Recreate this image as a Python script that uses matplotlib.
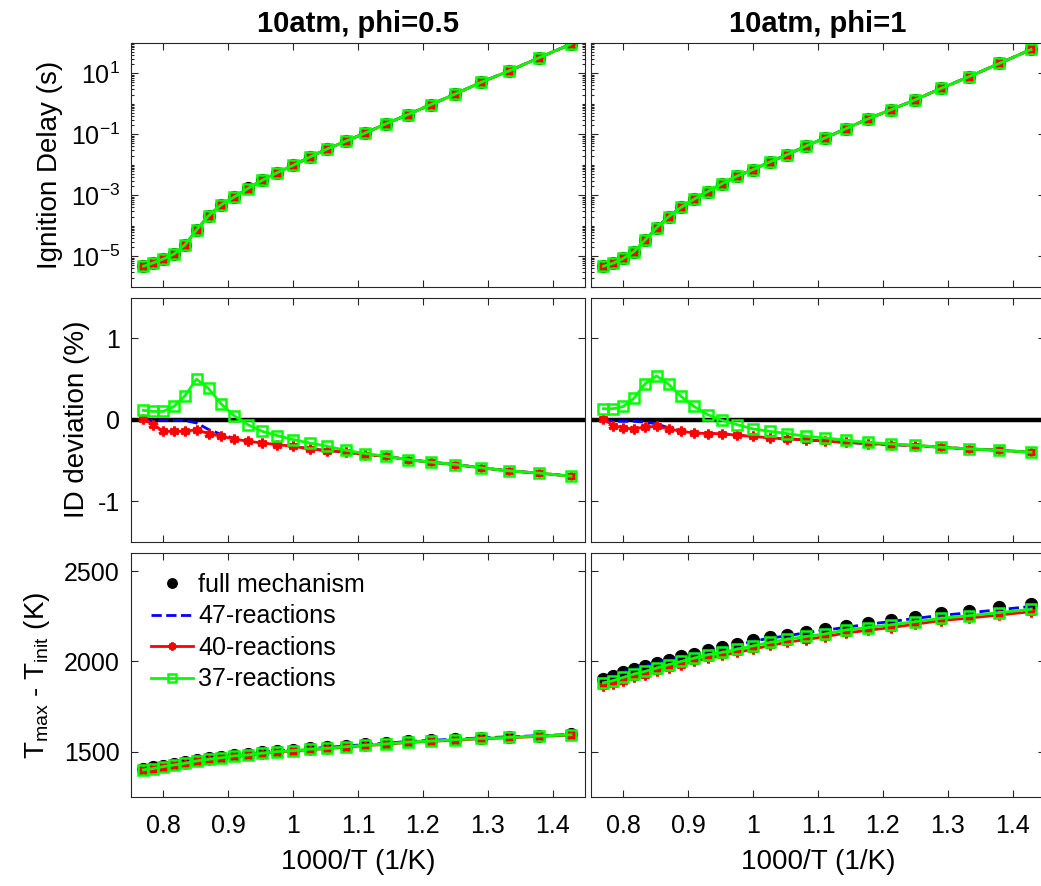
import numpy as np
import matplotlib
matplotlib.use("Agg")
import matplotlib.pyplot as plt
from matplotlib.ticker import LogLocator, NullFormatter

plt.rcParams['font.family'] = ['Liberation Sans', 'DejaVu Sans']
plt.rcParams['mathtext.fontset'] = 'custom'
plt.rcParams['mathtext.rm'] = 'Liberation Sans'
plt.rcParams['mathtext.it'] = 'Liberation Sans'
plt.rcParams['mathtext.bf'] = 'Liberation Sans:bold'
plt.rcParams['axes.unicode_minus'] = False

# initial temperatures (K)
T_init = [1300, 1275, 1250, 1225, 1200, 1175, 1150, 1125, 1100, 1075, 1050, 1025,
          1000, 975, 950, 925, 900, 875, 850, 825, 800, 775, 750, 725, 700]

titles = ["10atm, phi=0.5", "10atm, phi=1"]

# log10 of ignition delay (s), full mechanism
log_idt_phi05 = [-5.33, -5.22, -5.09, -4.93, -4.63, -4.14, -3.68, -3.32, -3.06, -2.78,
                 -2.51, -2.26, -2.02, -1.75, -1.48, -1.23, -0.96, -0.66, -0.36, -0.03,
                 0.32, 0.71, 1.08, 1.51, 1.96]
log_idt_phi1 = [-5.33, -5.23, -5.07, -4.85, -4.47, -4.07, -3.71, -3.40, -3.13, -2.88,
                -2.62, -2.37, -2.16, -1.91, -1.67, -1.39, -1.12, -0.82, -0.50, -0.20,
                0.13, 0.51, 0.89, 1.32, 1.78]

# ID deviation (%) of the reduced mechanisms
dev47_phi05 = [0.0, -0.01, -0.01, -0.01, -0.01, -0.04, -0.12, -0.18, -0.23, -0.265,
               -0.286, -0.306, -0.327, -0.359, -0.380, -0.396, -0.429, -0.449, -0.490,
               -0.522, -0.551, -0.592, -0.629, -0.657, -0.694]
dev40_phi05 = [0.008, -0.061, -0.143, -0.143, -0.143, -0.122, -0.171, -0.204, -0.237,
               -0.265, -0.286, -0.306, -0.327, -0.359, -0.380, -0.396, -0.429, -0.449,
               -0.490, -0.522, -0.551, -0.592, -0.629, -0.657, -0.694]
dev37_phi05 = [0.114, 0.102, 0.102, 0.163, 0.294, 0.498, 0.384, 0.196, 0.049, -0.061,
               -0.143, -0.196, -0.245, -0.286, -0.327, -0.376, -0.416, -0.449, -0.490,
               -0.522, -0.551, -0.592, -0.629, -0.657, -0.694]

dev47_phi1 = [0.0, -0.02, -0.02, -0.02, -0.03, -0.05, -0.10, -0.14, -0.163, -0.171,
              -0.171, -0.192, -0.204, -0.224, -0.237, -0.245, -0.265, -0.278, -0.294,
              -0.306, -0.318, -0.339, -0.359, -0.376, -0.400]
dev40_phi1 = [0.008, -0.073, -0.102, -0.114, -0.090, -0.082, -0.114, -0.143, -0.163,
              -0.171, -0.171, -0.192, -0.204, -0.224, -0.237, -0.245, -0.265, -0.278,
              -0.294, -0.306, -0.318, -0.339, -0.359, -0.376, -0.400]
dev37_phi1 = [0.135, 0.135, 0.163, 0.265, 0.441, 0.539, 0.437, 0.286, 0.163, 0.061,
              -0.008, -0.061, -0.114, -0.143, -0.171, -0.204, -0.224, -0.253, -0.278,
              -0.298, -0.314, -0.339, -0.359, -0.376, -0.400]

# temperature rise T_max - T_init (K)
dT_full_phi05 = [1406, 1413, 1424, 1433, 1442, 1455, 1464, 1472, 1482, 1488, 1497, 1506,
                 1512, 1519, 1525, 1533, 1541, 1548, 1558, 1564, 1571, 1578, 1584, 1590, 1597]
dT_47_phi05 = [1405, 1412, 1423, 1432, 1441, 1454, 1463, 1471, 1481, 1487, 1496, 1505,
               1511, 1518, 1524, 1532, 1540, 1547, 1557, 1563, 1570, 1577, 1583, 1589, 1596]
dT_40_phi05 = [1398, 1405, 1416, 1425, 1434, 1447, 1456, 1464, 1475, 1480, 1490, 1499,
               1504, 1512, 1517, 1526, 1534, 1541, 1552, 1557, 1565, 1572, 1578, 1585, 1592]
dT_37_phi05 = [1400, 1407, 1418, 1427, 1436, 1449, 1458, 1466, 1477, 1482, 1492, 1501,
               1506, 1514, 1519, 1528, 1536, 1543, 1554, 1559, 1567, 1574, 1580, 1587, 1594]

dT_full_phi1 = [1903, 1921, 1939, 1958, 1972, 1991, 2009, 2028, 2042, 2061, 2079, 2095,
                2116, 2134, 2147, 2165, 2180, 2196, 2215, 2229, 2248, 2266, 2281, 2299, 2318]
dT_47_phi1 = [1903, 1921, 1939, 1958, 1972, 1990, 2008, 2026, 2040, 2058, 2076, 2091,
              2111, 2129, 2141, 2159, 2173, 2188, 2206, 2220, 2238, 2255, 2269, 2286, 2304]
dT_40_phi1 = [1862, 1876, 1893, 1911, 1926, 1945, 1963, 1982, 2000, 2018, 2033, 2050,
              2068, 2088, 2106, 2121, 2137, 2157, 2172, 2187, 2206, 2226, 2240, 2257, 2275]
dT_37_phi1 = [1881, 1894, 1912, 1930, 1945, 1963, 1982, 2000, 2018, 2037, 2050, 2068,
              2086, 2105, 2123, 2138, 2152, 2174, 2187, 2202, 2220, 2239, 2253, 2270, 2288]

x = 1000.0 / np.array(T_init)

cases = [
    (log_idt_phi05, (dev47_phi05, dev40_phi05, dev37_phi05),
     (dT_full_phi05, dT_47_phi05, dT_40_phi05, dT_37_phi05)),
    (log_idt_phi1, (dev47_phi1, dev40_phi1, dev37_phi1),
     (dT_full_phi1, dT_47_phi1, dT_40_phi1, dT_37_phi1)),
]

FS = 18      # tick labels / legend
FS_LAB = 20  # axis labels
FS_TIT = 21  # titles
asterisk = (6, 2, 0)
sty_full = dict(color='k', ls='none', marker='o', ms=8.5, label='full mechanism')
sty_47 = dict(color='#0000ff', ls='--', lw=2, label='47-reactions')
sty_40 = dict(color='#ff0000', ls='-', lw=2, marker=asterisk, ms=7, mew=2.2,
              label='40-reactions')
sty_37 = dict(color='#00ff00', ls='-', lw=2, marker='s', ms=7, mew=1.8,
              mfc='none', label='37-reactions')

fig = plt.figure(figsize=(10.41, 8.86), dpi=100)

lefts = [0.1258, 0.5677]
width = 0.4361
bottoms = [0.6764, 0.3886, 0.1005]
height = 0.2754

for col, (logidt, devs, dts) in enumerate(cases):
    idt = 10.0 ** np.array(logidt)
    axes = [fig.add_axes([lefts[col], b, width, height]) for b in bottoms]
    ax1, ax2, ax3 = axes

    # ignition delay
    ax1.semilogy(x, idt, **sty_full)
    ax1.semilogy(x, idt * (1 + np.array(devs[0]) / 100), **sty_47)
    ax1.semilogy(x, idt * (1 + np.array(devs[1]) / 100), **sty_40)
    ax1.semilogy(x, idt * (1 + np.array(devs[2]) / 100), **sty_37)
    ax1.set_ylim(1e-6, 1e2)
    ax1.set_yticks([1e-5, 1e-3, 1e-1, 1e1])
    ax1.yaxis.set_minor_locator(LogLocator(base=10, subs=np.arange(1, 10), numticks=50))
    ax1.yaxis.set_minor_formatter(NullFormatter())
    ax1.set_title(titles[col], fontsize=FS_TIT, fontweight='bold', pad=8)

    # ID deviation
    ax2.axhline(0, color='k', lw=3.2)
    ax2.plot(x, devs[0], **sty_47)
    ax2.plot(x, devs[1], **sty_40)
    ax2.plot(x, devs[2], **sty_37)
    ax2.set_ylim(-1.5, 1.5)
    ax2.set_yticks([-1, 0, 1])

    # temperature rise
    ax3.plot(x, dts[0], **sty_full)
    ax3.plot(x, dts[1], **sty_47)
    ax3.plot(x, dts[2], **sty_40)
    ax3.plot(x, dts[3], **sty_37)
    ax3.set_ylim(1250, 2600)
    ax3.set_yticks([1500, 2000, 2500])
    ax3.set_xlabel('1000/T (1/K)', fontsize=FS_LAB, labelpad=8)

    for ax in axes:
        ax.set_xlim(0.75, 1.45)
        ax.set_xticks([0.8, 0.9, 1.0, 1.1, 1.2, 1.3, 1.4])
        ax.set_xticklabels(['0.8', '0.9', '1', '1.1', '1.2', '1.3', '1.4'])
        ax.tick_params(which='both', direction='in', top=True, right=True,
                       labelsize=FS, color='0.15', width=0.8)
        ax.tick_params(which='major', length=5)
        ax.tick_params(which='minor', length=2.5)
        ax.tick_params(axis='y', pad=8)
        ax.tick_params(axis='x', pad=12)
        for sp in ax.spines.values():
            sp.set_color('0.15')
            sp.set_linewidth(0.8)
        if ax is not ax3:
            ax.tick_params(labelbottom=False)
        if col == 1:
            ax.tick_params(labelleft=False)

    if col == 0:
        ax1.set_ylabel('Ignition Delay (s)', fontsize=FS_LAB)
        ax2.set_ylabel('ID deviation (%)', fontsize=FS_LAB)
        ax3.set_ylabel(r'T$_{\rm max}$ - T$_{\rm init}$ (K)', fontsize=FS_LAB)
        ax1.yaxis.set_label_coords(-0.150, 0.5)
        ax2.yaxis.set_label_coords(-0.090, 0.5)
        ax3.yaxis.set_label_coords(-0.175, 0.5)
        ax3.legend(loc='upper left', frameon=False, fontsize=FS, handlelength=1.7,
                   handletextpad=0.2, labelspacing=0.3, borderaxespad=0.4,
                   markerscale=0.8)

fig.savefig('out.png', dpi=100)
